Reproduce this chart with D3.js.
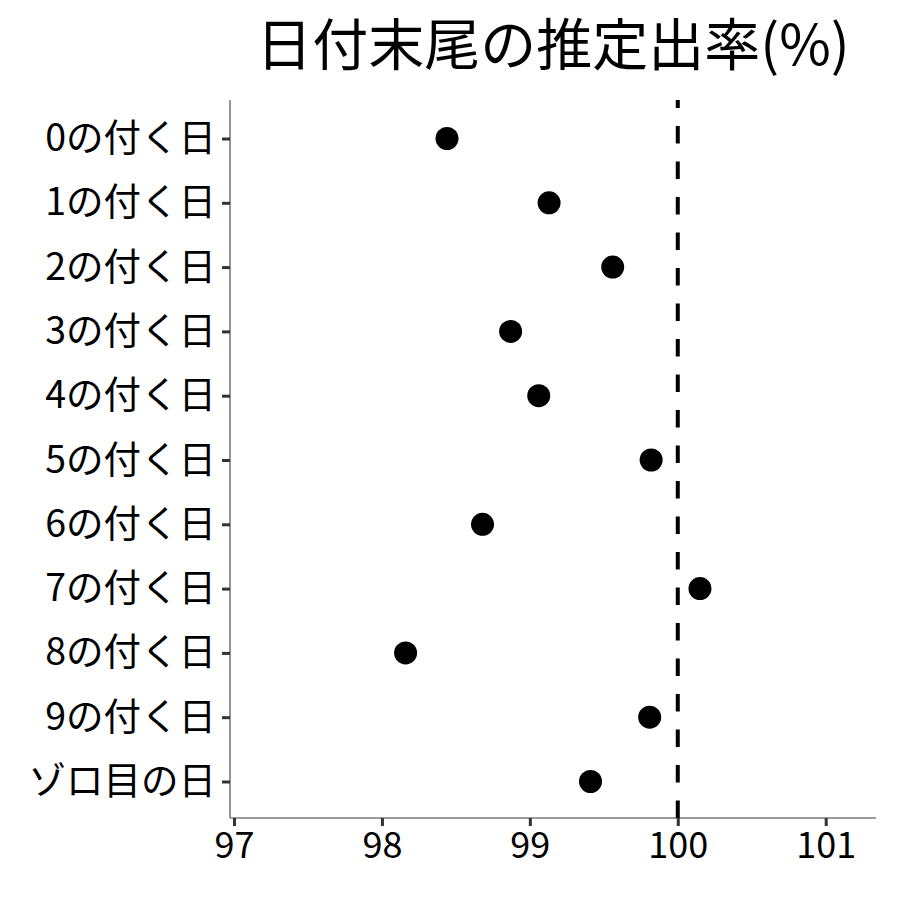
<!DOCTYPE html>
<html><head><meta charset="utf-8">
<script src="https://cdn.jsdelivr.net/npm/d3@7"></script>
<style>body{margin:0;background:#fff}svg{display:block}text{font-family:"Noto Sans CJK JP","Noto Sans",sans-serif}</style>
</head><body>
<script>
const categories = ["0の付く日","1の付く日","2の付く日","3の付く日","4の付く日","5の付く日","6の付く日","7の付く日","8の付く日","9の付く日","ゾロ目の日"];
const values = [98.44, 99.13, 99.56, 98.87, 99.06, 99.82, 98.68, 100.15, 98.16, 99.81, 99.41];
const xTicks = [97, 98, 99, 100, 101];
const refLine = 100;
const title = "日付末尾の推定出率(%)";

const W = 900, H = 900;
const m = {left: 230, right: 24, top: 100, bottom: 82};
const svg = d3.select("body").append("svg").attr("width", W).attr("height", H);

const x = d3.scaleLinear().domain([96.973, 101.34]).range([m.left, W - m.right]);
const y = d3.scalePoint().domain(categories).range([138.5, 781.5]);

// axes
const gx = svg.append("g").attr("transform", `translate(0,${H - m.bottom})`)
  .call(d3.axisBottom(x).tickValues(xTicks).tickSize(8).tickPadding(6).tickFormat(d3.format("d")));
const gy = svg.append("g").attr("transform", `translate(${m.left},0)`)
  .call(d3.axisLeft(y).tickSize(8).tickPadding(6));
[gx, gy].forEach(g => {
  g.select(".domain").attr("stroke", "#7a7a7a").attr("stroke-width", 1.6);
  g.selectAll(".tick line").attr("stroke", "#333").attr("stroke-width", 3);
  g.selectAll(".tick text").attr("fill", "#000").style("font-size", "36px");
});
gy.selectAll(".tick text").style("font-size", "37.5px");
gy.select(".domain").attr("d", `M0,${m.top}V${H - m.bottom}`);
gx.select(".domain").attr("d", `M${m.left},0H${W - m.right}`);

// reference line
svg.append("line")
  .attr("x1", x(refLine)).attr("x2", x(refLine))
  .attr("y1", H - m.bottom).attr("y2", m.top)
  .attr("stroke", "#000").attr("stroke-width", 4)
  .attr("stroke-dasharray", "17.5,18");

// points
svg.append("g").selectAll("circle").data(categories).join("circle")
  .attr("cx", (d, i) => x(values[i])).attr("cy", d => y(d))
  .attr("r", 11.5).attr("fill", "#000");

// title
svg.append("text").attr("x", (m.left + W - m.right) / 2).attr("y", 65)
  .attr("text-anchor", "middle").style("font-size", "56px").attr("fill", "#000")
  .text(title);
</script>
</body></html>
